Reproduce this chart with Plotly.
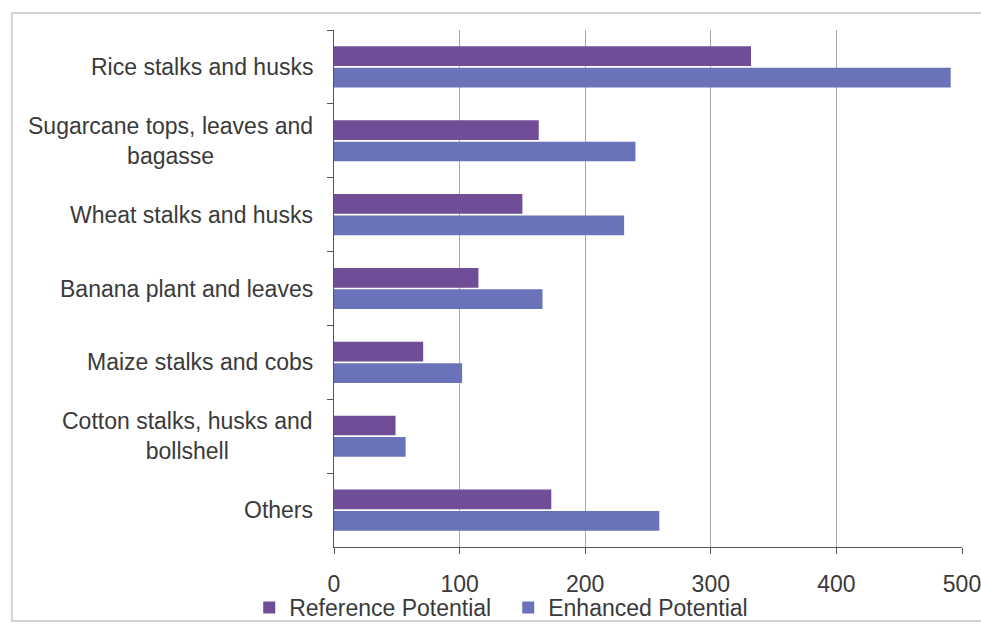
import plotly.graph_objects as go

categories = [
    "Rice stalks and husks",
    "Sugarcane tops, leaves and<br>bagasse",
    "Wheat stalks and husks",
    "Banana plant and leaves",
    "Maize stalks and cobs",
    "Cotton stalks, husks and<br>bollshell",
    "Others",
]
reference_potential = [332, 163, 150, 115, 71, 49, 173]
enhanced_potential = [491, 240, 231, 166, 102, 57, 259]
x_ticks = [0, 100, 200, 300, 400, 500]

FONT = "Liberation Sans, Arial, sans-serif"
TXT = "#3a3a3a"

fig = go.Figure()
fig.add_trace(go.Bar(
    y=categories, x=reference_potential, orientation="h",
    name="Reference Potential", marker=dict(color="#6f4e97", line=dict(width=0)),
))
fig.add_trace(go.Bar(
    y=categories, x=enhanced_potential, orientation="h",
    name="Enhanced Potential", marker=dict(color="#6a73b9", line=dict(width=0)),
))

annotations = []
for c in categories:
    annotations.append(dict(
        x=0, xref="paper", y=c, yref="y", text=c, showarrow=False,
        xanchor="right", yanchor="middle", align="center", xshift=-19,
        font=dict(family=FONT, size=23, color=TXT),
    ))

fig.update_layout(
    width=981, height=630,
    margin=dict(l=334, r=19, t=30, b=83, autoexpand=False),
    paper_bgcolor="white", plot_bgcolor="white",
    barmode="group", bargap=0.42, bargroupgap=0.08,
    font=dict(family=FONT, size=23, color=TXT),
    xaxis=dict(
        range=[0, 500], tickvals=x_ticks, ticktext=[str(v) for v in x_ticks],
        showgrid=True, gridcolor="#a8a8a8", gridwidth=1,
        showline=True, linecolor="#555555", linewidth=1,
        ticks="outside", ticklen=6, tickcolor="#555555",
        tickfont=dict(family=FONT, size=23, color=TXT),
        ticklabelstandoff=10, ticklabeloverflow="allow",
        zeroline=False, automargin=False,
    ),
    yaxis=dict(
        categoryorder="array", categoryarray=categories, autorange="reversed",
        showline=True, linecolor="#555555", linewidth=1,
        ticks="outside", ticklen=6, tickcolor="#555555", tickson="boundaries",
        showticklabels=False, showgrid=False, zeroline=False, automargin=False,
    ),
    legend=dict(
        orientation="h", x=-0.135, xanchor="left", y=-0.117, yanchor="middle",
        font=dict(family=FONT, size=23, color=TXT),
        traceorder="normal", bgcolor="rgba(0,0,0,0)",
        itemwidth=30, entrywidth=214, entrywidthmode="pixels",
    ),
    annotations=annotations,
    shapes=[dict(
        type="rect", xref="paper", yref="paper",
        x0=-0.513, x1=1.06, y0=-0.143, y1=1.033,
        line=dict(color="#d3d3d3", width=2), layer="below",
    )],
)

fig.write_html("out.html")
